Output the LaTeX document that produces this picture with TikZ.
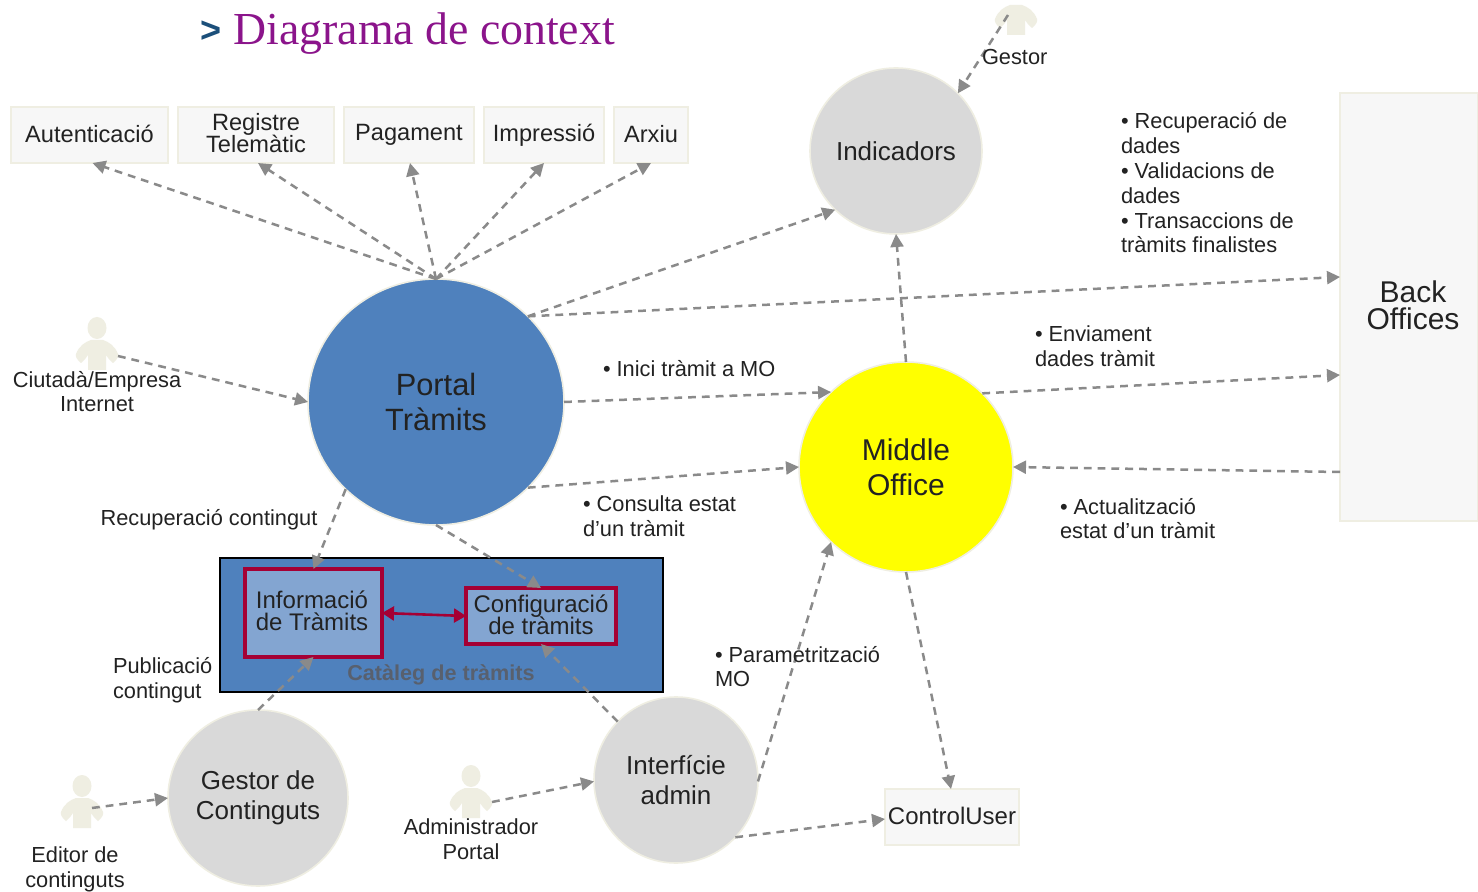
\documentclass[tikz,border=0pt]{standalone}
\usepackage{fontspec}
\setmainfont{Liberation Sans}
\newfontfamily\titlefont{Liberation Serif}
\usetikzlibrary{shapes.geometric,arrows.meta}
\definecolor{edgegray}{HTML}{8A8A8A}
\definecolor{paleline}{HTML}{EFEEE2}
\definecolor{boxfill}{HTML}{F7F7F7}
\definecolor{circgray}{HTML}{D9D9D9}
\definecolor{portalblue}{HTML}{4F81BD}
\definecolor{innerblue}{HTML}{83A5D1}
\definecolor{crimson}{HTML}{A50034}
\definecolor{actorcol}{HTML}{EFEEE2}
\definecolor{titlepurple}{HTML}{8B148B}
\definecolor{titleblue}{HTML}{1B4F7A}
\definecolor{txt}{HTML}{222222}
\definecolor{midyellow}{RGB}{255,255,0}
\definecolor{catgray}{HTML}{58606E}
\newcommand{\fs}[2]{\fontsize{#1}{#2}\selectfont\lineskiplimit=-20pt\relax}
\newcommand{\up}[2]{\raisebox{#1}{#2}}
\tikzset{
  x=0.5pt,y=-0.5pt,
  dep/.style={draw=edgegray,line width=1.25pt,dash pattern=on 3.9pt off 3pt,-{Triangle[length=6.5pt,width=6.5pt,fill=edgegray]}},
  boxn/.style={draw=paleline,line width=0.8pt,fill=boxfill,rectangle,inner sep=0pt,outer sep=0pt,align=center,text=txt,font=\fs{11.8}{11}},
  circn/.style={draw=paleline,line width=0.8pt,fill=circgray,ellipse,inner sep=0pt,outer sep=0pt,align=center,text=txt,font=\fs{13}{15}},
  inner/.style={draw=crimson,line width=1.55pt,fill=innerblue,rectangle,inner sep=0pt,outer sep=0pt,align=center,text=txt,font=\fs{12}{11}},
  lab/.style={inner sep=0pt,outer sep=0pt,text=txt,font=\fs{10.9}{12.4}},
  llab/.style={lab,align=left,anchor=west},
  clab/.style={lab,align=center},
  actorbody/.pic={
    \fill[actorcol] (-9,14) -- (-9,-1) .. controls (-11,2) and (-13,5) .. (-16,7)
      .. controls (-20,4) and (-22,0) .. (-21,-2) .. controls (-18,-10) and (-12,-14) .. (-6,-16)
      -- (6,-16) .. controls (12,-14) and (18,-10) .. (21,-2) .. controls (22,0) and (20,4) .. (16,7)
      .. controls (13,5) and (11,2) .. (9,-1) -- (9,14) -- cycle;
  },
  actor/.pic={
    \fill[actorcol] (0,-28) ellipse (9.5 and 11);
    \pic {actorbody};
  }
}
\begin{document}
\begin{tikzpicture}
\useasboundingbox (0,0) rectangle (1478,892);
\fill[white] (0,0) rectangle (1478,892);

% title
\node[inner sep=0pt,anchor=base west,font=\bfseries\fs{18}{22},text=titleblue] (titlemark) at (200,43) {>};
\node[inner sep=0pt,anchor=base west,font=\titlefont\fs{22.9}{24},text=titlepurple] (title) at (233,44.5) {Diagrama de context};

% top boxes
\node[boxn,minimum width=78.5pt,minimum height=28pt] (autent) at (89.5,135) {\up{1pt}{Autenticació}};
\node[boxn,minimum width=78pt,minimum height=28pt] (registre) at (256,135) {\up{2pt}{Registre}\\\up{2pt}{Telemàtic}};
\node[boxn,minimum width=65pt,minimum height=28pt] (pagament) at (409,135) {Pagament};
\node[boxn,minimum width=60pt,minimum height=28pt] (impressio) at (544,135) {\up{1pt}{Impressió}};
\node[boxn,minimum width=37pt,minimum height=28pt] (arxiu) at (651,135) {\up{1pt}{Arxiu}};
\node[boxn,minimum width=67pt,minimum height=28pt,font=\fs{12}{11}] (control) at (952,817) {\up{1pt}{ControlUser}};
\node[boxn,minimum width=69pt,minimum height=214pt,font=\fs{15}{13.5}] (back) at (1409,307) {\up{1.5pt}{\hspace{4pt}Back}\\\up{1.5pt}{\hspace{4pt}Offices}};

% catalog
\node[draw=black,line width=1pt,fill=portalblue,rectangle,inner sep=0pt,outer sep=0pt,minimum width=221.5pt,minimum height=67pt] (cataleg) at (441.5,625) {};
\node[inner sep=0pt,font=\bfseries\fs{10.8}{12},text=catgray] (catalegtxt) at (441,675) {Catàleg de tràmits};
\node[inner,minimum width=68.5pt,minimum height=44pt] (info) at (313.5,613) {\up{2pt}{\hspace{-1.5pt}Informació}\\\up{2pt}{\hspace{-1.5pt}de Tràmits}};
\node[inner,minimum width=75pt,minimum height=28pt] (config) at (541,616) {\up{1.5pt}{Configuració}\\\up{1.5pt}{de tràmits}};

% circles
\node[circn,fill=portalblue,minimum width=128pt,minimum height=123pt,font=\fs{15.4}{17.5}] (portal) at (436,402) {Portal\\Tràmits};
\node[circn,minimum width=86pt,minimum height=83pt] (indic) at (896,151) {Indicadors};
\node[circn,fill=midyellow,minimum width=107pt,minimum height=105pt,font=\fs{15}{17.5}] (middle) at (906,467) {Middle\\Office};
\node[circn,minimum width=90pt,minimum height=88pt] (gestorc) at (258,798) {\up{-3pt}{Gestor de}\\\up{-3pt}{Continguts}};
\node[circn,minimum width=82pt,minimum height=83pt] (interf) at (676,780) {Interfície\\admin};

% actors
\pic at (97,356) {actor};
\pic at (82,814) {actor};
\pic at (471,804) {actor};
\pic at (1016,21) {actorbody};
\coordinate (aciutada) at (118,356);
\coordinate (aeditor) at (92,808);
\coordinate (aadmin) at (492,802);
\coordinate (agestor) at (1008,15);

% connectors
\draw[dep] (portal.north) -- ([xshift=1.5pt]autent.south);
\draw[dep] (portal.north) -- ([xshift=1pt]registre.south);
\draw[dep] (portal.north) -- ([xshift=0.5pt]pagament.south);
\draw[dep] (portal.north) -- (impressio.south);
\draw[dep] (portal.north) -- (arxiu.south);
\draw[dep] (portal.43.4) -- (indic.224);
\draw[dep] (portal.43.4) -- ([yshift=15pt]back.west);
\draw[dep] (portal.0) -- (middle.135);
\draw[dep] (portal.-43.7) -- (middle.west);
\draw[dep] (middle.44.6) -- ([yshift=-34pt]back.west);
\draw[dep] ([yshift=-82.5pt]back.west) -- (middle.east);
\draw[dep] (middle.north) -- (indic.south);
\draw[dep] (agestor) -- (indic.43.6);
\draw[dep] (middle.south) -- ([xshift=-0.5pt]control.north);
\draw[dep] (interf.-1) -- (middle.225.8);
\draw[dep] (interf.-44.5) -- ([yshift=-1pt]control.west);
\draw[dep] (interf.135) -- (config.south);
\draw[dep] (aadmin) -- (interf.181);
\draw[dep] (gestorc.north) -- (info.south);
\draw[dep] (aeditor) -- (gestorc.west);
\draw[dep] (aciutada) -- (portal.west);
\draw[dep] (portal.224) -- (info.north);
\draw[dep] (portal.south) -- (config.north);
\draw[draw=crimson,line width=1.3pt,{Triangle[length=6pt,width=7pt]}-{Triangle[length=6pt,width=7pt]}] (info.east) -- (config.west);

% labels
\node[clab,anchor=north] (lciutada) at (97,371) {Ciutadà/Empresa\\Internet};
\node[lab,fill=white,inner sep=1pt] (lrecup) at (209,520) {Recuperació contingut};
\node[llab] (linici) at (603,369) {• Inici tràmit a MO};
\node[llab] (lconsulta) at (583,516.5) {• Consulta estat\\d'un tràmit};
\node[llab] (lenviament) at (1035,346.5) {• Enviament\\dades tràmit};
\node[llab] (lactual) at (1060,518.5) {• Actualització\\estat d'un tràmit};
\node[llab] (lparam) at (715,666.5) {• Parametrització\\MO};
\node[llab] (lpublic) at (113,680) {Publicació\\contingut};
\node[clab] (leditor) at (75,869) {Editor de\\continguts};
\node[clab] (ladmin) at (471,839.5) {Administrador\\Portal};
\node[llab] (lgestor) at (982,57) {Gestor};
\node[llab] (lback) at (1121,183) {• Recuperació de\\dades\\• Validacions de\\dades\\• Transaccions de\\tràmits finalistes};
\end{tikzpicture}
\end{document}
